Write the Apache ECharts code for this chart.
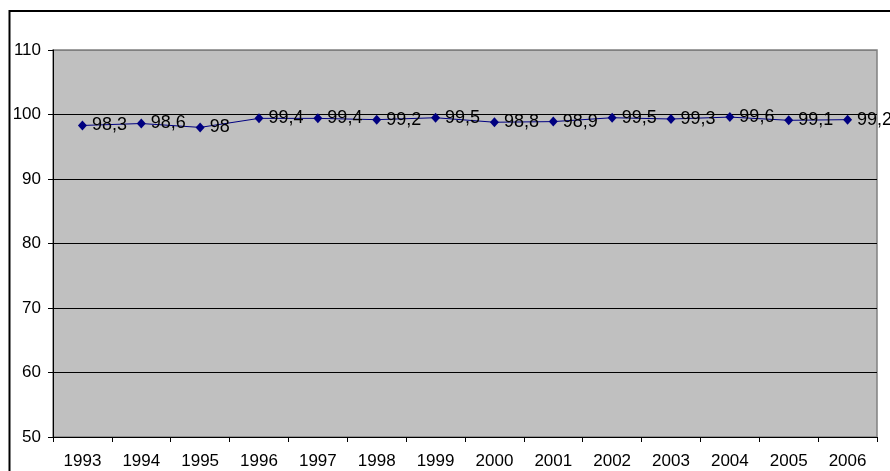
<!DOCTYPE html>
<html>
<head>
<meta charset="utf-8">
<script src="https://cdn.jsdelivr.net/npm/echarts@6/dist/echarts.min.js"></script>
<style>
html,body{margin:0;padding:0;background:#fff;}
#chart{width:890px;height:471px;}
</style>
</head>
<body>
<div id="chart"></div>
<script>
var years = ['1993','1994','1995','1996','1997','1998','1999','2000','2001','2002','2003','2004','2005','2006'];
var values = [98.3, 98.6, 98, 99.4, 99.4, 99.2, 99.5, 98.8, 98.9, 99.5, 99.3, 99.6, 99.1, 99.2];
var yMin = 50, yMax = 110, yStep = 10;

var FONT = "'Liberation Sans', Arial, sans-serif";
var chart = echarts.init(document.getElementById('chart'));
chart.setOption({
  animation: false,
  backgroundColor: '#fff',
  graphic: [{
    type: 'rect',
    shape: {x: 9.5, y: 11, width: 1000, height: 600},
    style: {fill: 'none', stroke: '#000', lineWidth: 2},
    z: 100
  }],
  grid: {
    left: 53, right: 13, top: 50, bottom: 34,
    show: true, backgroundColor: '#C0C0C0', borderColor: '#808080', borderWidth: 1.5
  },
  xAxis: {
    type: 'category',
    data: years,
    boundaryGap: true,
    axisLine: {lineStyle: {color: '#000', width: 1}},
    axisTick: {show: true, interval: 0, length: 5, lineStyle: {color: '#000'}},
    axisLabel: {interval: 0, color: '#000', fontSize: 17, fontFamily: FONT, margin: 16},
    splitLine: {show: false}
  },
  yAxis: {
    type: 'value',
    min: yMin, max: yMax, interval: yStep,
    axisLine: {show: true, lineStyle: {color: '#000', width: 1}},
    axisTick: {show: true, length: 5, lineStyle: {color: '#000'}},
    axisLabel: {color: '#000', fontSize: 17, fontFamily: FONT, margin: 12},
    splitLine: {show: true, lineStyle: {color: ['#000','#000','#000','#000','#000','#000','#808080'], width: 1}}
  },
  series: [{
    type: 'line',
    data: values,
    symbol: 'diamond',
    symbolSize: [9, 10],
    lineStyle: {color: '#000080', width: 1},
    itemStyle: {color: '#000080'},
    label: {
      show: true, position: 'right', distance: 5,
      color: '#000', fontSize: 18, fontFamily: FONT,
      formatter: function (p) { return String(p.value).replace('.', ','); }
    }
  }]
});
</script>
</body>
</html>
